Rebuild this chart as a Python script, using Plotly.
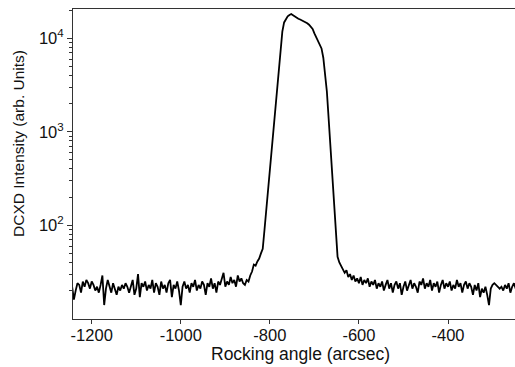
import plotly.graph_objects as go

# Rocking curve (DCXD) sampled every 4 arcsec, starting at -1244 arcsec
start_angle = -1244
step_angle = 4

# baseline on the low-angle side (-1244 .. -904)
left_baseline = [
    22, 16, 20, 24, 23, 19, 25, 22, 26, 24, 21, 25, 23, 20, 22, 19, 23, 29, 14, 21,
    26, 22, 19, 24, 21, 18, 22, 20, 23, 21, 24, 22, 19, 23, 26, 18, 21, 30, 17, 24,
    22, 25, 20, 23, 21, 26, 19, 24, 22, 18, 25, 21, 23, 19, 24, 26, 17, 23, 21, 25,
    20, 14, 22, 25, 21, 23, 19, 24, 22, 26, 20, 23, 21, 25, 23, 18, 24, 22, 27, 21,
    24, 19, 25, 23, 26, 31,
]
# slight rise before the peak (-900 .. -820)
pre_peak = [22, 25, 23, 28, 24, 26, 22, 29, 25, 27,
            24, 23, 26, 25, 29, 32, 38, 37, 41, 44, 50]
# main Bragg peak (-816 .. -652)
peak = [
    56, 90, 148, 250, 420, 690, 1150, 1900, 3100, 4900, 8100, 11800, 14800, 16300,
    17200, 17800, 18200, 17700, 17100, 16600, 16200, 15900, 15600, 15300, 15000,
    14500, 14000, 13300, 12600, 11300, 10300, 9600, 8900, 7800, 6200, 4300, 2700,
    1380, 680, 330, 165, 75,
]
# tail and baseline on the high-angle side (-648 .. -248)
right_baseline = [
    46, 40, 37, 34, 31, 33, 28, 30, 26, 29, 25, 27, 24, 28, 23, 26, 24, 27, 22, 25,
    23, 26, 21, 24, 22, 25, 20, 23, 26, 21, 24, 19, 23, 25, 21, 24, 18, 22, 25, 20,
    23, 26, 21, 24, 22, 19, 25, 23, 27, 21, 24, 22, 26, 20, 24, 22, 25, 19, 23, 26,
    21, 24, 22, 25, 20, 23, 21, 26, 22, 24, 19, 23, 25, 21, 24, 22, 18, 23, 20, 24,
    17, 21, 19, 22, 18, 14, 21, 23, 24, 23, 22, 21, 22, 20, 23, 21, 24, 19, 22, 24,
    21,
]

intensity = left_baseline + pre_peak + peak + right_baseline
angle = [start_angle + step_angle * i for i in range(len(intensity))]

x_ticks = [-1200, -1000, -800, -600, -400]
x_ticktext = ["-1200", "-1000", "-800", "-600", "-400"]
y_ticks = [100, 1000, 10000]
y_ticktext = ["10<sup>2</sup>", "10<sup>3</sup>", "10<sup>4</sup>"]
x_title = "Rocking angle (arcsec)"
y_title = "DCXD Intensity (arb. Units)"

fig = go.Figure()
fig.add_trace(go.Scatter(x=angle, y=intensity, mode="lines",
                         line=dict(color="black", width=1.8), hoverinfo="skip"))

minor_vals = [m * 10 ** e for e in range(1, 5) for m in range(2, 10)]

fig.update_layout(
    width=515, height=367,
    margin=dict(l=73, r=0, t=9, b=48),
    paper_bgcolor="white", plot_bgcolor="white",
    showlegend=False,
    font=dict(family="Liberation Sans, Arial, sans-serif", size=16, color="#111"),
)
fig.update_xaxes(
    range=[-1242, -249.6], showgrid=False, zeroline=False,
    showline=True, linecolor="#333", linewidth=1, mirror=True,
    ticks="outside", ticklen=4, tickcolor="#333", ticklabelstandoff=-3,
    tickvals=x_ticks, ticktext=x_ticktext, tickfont=dict(size=16.5),
    automargin=False,
)
fig.update_yaxes(
    type="log", range=[0.997, 4.314], showgrid=False, zeroline=False,
    showline=True, linecolor="#333", linewidth=1, mirror=False,
    ticks="outside", ticklen=5, tickcolor="#333",
    tickvals=y_ticks, ticktext=y_ticktext, tickfont=dict(size=16.5),
    minor=dict(tickvals=minor_vals, ticks="outside", ticklen=3, tickcolor="#333", showgrid=False),
    automargin=False,
)
# axis titles placed as in the reference (slightly off-centre)
fig.add_annotation(text=x_title, xref="paper", yref="paper", x=0.5136, y=-0.113,
                   xanchor="center", yanchor="middle", showarrow=False,
                   font=dict(size=17.5))
fig.add_annotation(text=y_title, xref="paper", yref="paper", x=-0.122, y=0.565,
                   xanchor="center", yanchor="middle", showarrow=False, textangle=-90,
                   font=dict(size=15.5))

fig.write_html("out.html", config={"displayModeBar": False},
               post_script="document.body.style.margin='0px';document.body.style.overflow='hidden';")
